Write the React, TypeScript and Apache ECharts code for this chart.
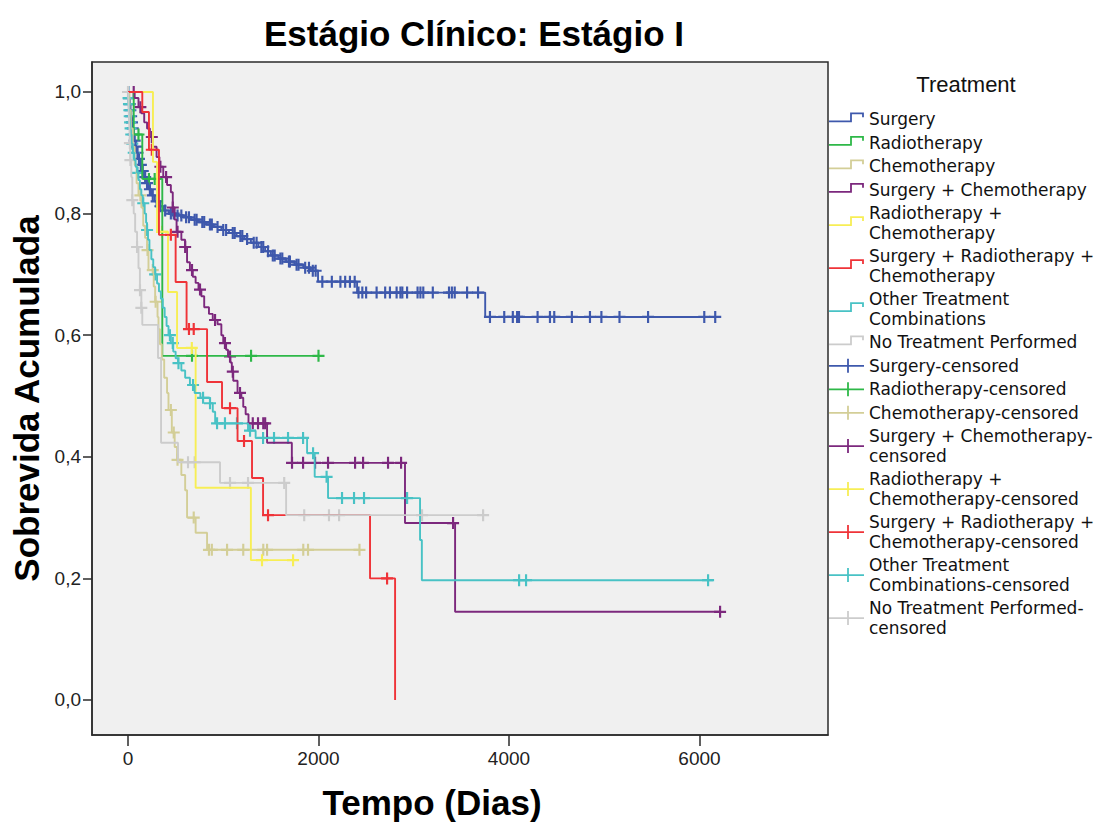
import React, { useEffect, useRef } from "react";
import * as echarts from "echarts";

// ---------- data ----------
const treatments = [
  "Surgery",
  "Radiotherapy",
  "Chemotherapy",
  "Surgery + Chemotherapy",
  "Radiotherapy + Chemotherapy",
  "Surgery + Radiotherapy + Chemotherapy",
  "Other Treatment Combinations",
  "No Treatment Performed",
];

const legendLabels = [
  "Surgery",
  "Radiotherapy",
  "Chemotherapy",
  "Surgery + Chemotherapy",
  "Radiotherapy +\nChemotherapy",
  "Surgery + Radiotherapy +\nChemotherapy",
  "Other Treatment\nCombinations",
  "No Treatment Performed",
  "Surgery-censored",
  "Radiotherapy-censored",
  "Chemotherapy-censored",
  "Surgery + Chemotherapy-\ncensored",
  "Radiotherapy +\nChemotherapy-censored",
  "Surgery + Radiotherapy +\nChemotherapy-censored",
  "Other Treatment\nCombinations-censored",
  "No Treatment Performed-\ncensored",
];

const colors = ["#3E58AC", "#2EB848", "#D3CE97", "#7C287D", "#F7EE55", "#EF3338", "#48C2C5", "#CCCCCC"];

const xTicks = [0, 2000, 4000, 6000];
const yTicks = [0, 0.2, 0.4, 0.6, 0.8, 1.0];

// Kaplan-Meier steps: [day, survival after that day]
const surgerySteps = [
  [0, 1.0], [8, 0.99], [15, 0.98], [22, 0.97], [30, 0.96], [38, 0.95], [46, 0.94], [55, 0.93],
  [65, 0.92], [78, 0.91], [92, 0.9], [108, 0.89], [125, 0.88], [145, 0.87], [165, 0.86], [190, 0.85],
  [215, 0.84], [245, 0.83], [280, 0.82], [320, 0.812], [370, 0.805], [430, 0.8], [500, 0.797],
  [580, 0.794], [660, 0.79], [740, 0.786], [820, 0.782], [900, 0.778], [980, 0.773], [1060, 0.768],
  [1140, 0.763], [1220, 0.758], [1290, 0.752], [1370, 0.745], [1440, 0.738], [1500, 0.731],
  [1580, 0.726], [1660, 0.721], [1750, 0.716], [1840, 0.711], [1920, 0.706], [1995, 0.688],
  [2405, 0.67], [3750, 0.63], [6216, 0.63],
];
const surgeryCensored = [
  3, 10, 18, 25, 33, 42, 50, 60, 70, 85, 100, 115, 135, 155, 180, 200, 230, 260, 300, 340, 390, 450,
  480, 520, 560, 610, 640, 700, 720, 780, 800, 860, 880, 940, 1000, 1030, 1100, 1120, 1180, 1200, 1250,
  1320, 1350, 1400, 1420, 1470, 1520, 1540, 1600, 1620, 1690, 1700, 1770, 1790, 1860, 1900, 1940, 1970,
  2040, 2140, 2230, 2280, 2330, 2380, 2420, 2460, 2500, 2610, 2700, 2750, 2820, 2860, 2880, 2930, 3040,
  3070, 3100, 3200, 3370, 3400, 3430, 3560, 3675, 3800, 3950, 4040, 4085, 4105, 4300, 4430, 4475,
  4660, 4850, 4970, 5160, 5460, 6050, 6165,
];

const radioSteps = [[0, 1.0], [60, 0.93], [150, 0.857], [360, 0.566], [2000, 0.566]];
const radioCensored = [110, 220, 280, 672, 1292, 2000];

const chemoSteps = [
  [0, 1.0], [15, 0.97], [30, 0.94], [50, 0.91], [70, 0.88], [90, 0.85], [110, 0.83], [140, 0.81],
  [160, 0.78], [180, 0.76], [200, 0.74], [215, 0.707], [270, 0.68], [285, 0.655], [310, 0.63],
  [320, 0.61], [335, 0.585], [355, 0.56], [380, 0.53], [410, 0.505], [425, 0.477], [460, 0.44],
  [490, 0.416], [515, 0.395], [560, 0.37], [600, 0.345], [620, 0.3], [710, 0.275], [830, 0.247],
  [2430, 0.247],
];
const chemoCensored = [130, 205, 260, 290, 450, 480, 520, 690, 850, 880, 1040, 1210, 1420, 1460, 1840, 1890, 2430];

const surgChemoSteps = [
  [0, 1.0], [70, 0.99], [110, 0.975], [140, 0.965], [170, 0.95], [200, 0.94], [230, 0.926], [260, 0.91],
  [300, 0.893], [330, 0.877], [370, 0.86], [410, 0.847], [450, 0.835], [470, 0.81], [490, 0.79],
  [510, 0.77], [560, 0.757], [600, 0.745], [620, 0.72], [650, 0.707], [680, 0.696], [710, 0.686],
  [740, 0.675], [770, 0.664], [800, 0.646], [850, 0.635], [890, 0.625], [940, 0.618], [980, 0.6],
  [1000, 0.587], [1030, 0.576], [1050, 0.565], [1075, 0.555], [1090, 0.54], [1105, 0.525],
  [1150, 0.505], [1190, 0.497], [1210, 0.482], [1235, 0.47], [1265, 0.455], [1460, 0.423],
  [1720, 0.39], [2908, 0.291], [3434, 0.145], [6216, 0.145],
];
const surgChemoCensored = [
  60, 130, 250, 340, 400, 470, 520, 600, 672, 756, 914, 1018, 1071, 1100, 1176, 1310, 1365, 1420, 1440,
  1722, 1838, 1964, 2100, 2384, 2468, 2730, 2867, 3413, 6216,
];

const radioChemoSteps = [[0, 1.0], [262, 0.885], [305, 0.77], [420, 0.671], [515, 0.579], [710, 0.349], [1290, 0.23], [1785, 0.23]];
const radioChemoCensored = [357, 670, 1407, 1733];

const surgRadioChemoSteps = [
  [0, 1.0], [150, 0.967], [220, 0.905], [325, 0.765], [500, 0.6875], [615, 0.61], [830, 0.523],
  [987, 0.48], [1150, 0.426], [1302, 0.365], [1418, 0.304], [2541, 0.2], [2804, 0.0],
];
const surgRadioChemoCensored = [250, 450, 640, 690, 1071, 1218, 1470, 2720];

const otherSteps = [
  [0, 1.0], [4, 0.99], [8, 0.98], [12, 0.97], [16, 0.96], [20, 0.95], [25, 0.94], [30, 0.93], [38, 0.915],
  [50, 0.9], [65, 0.888], [80, 0.877], [95, 0.867], [110, 0.855], [125, 0.84], [140, 0.83], [155, 0.817],
  [175, 0.8], [190, 0.785], [200, 0.773], [210, 0.757], [225, 0.74], [245, 0.725], [265, 0.712],
  [285, 0.7], [305, 0.685], [325, 0.672], [345, 0.66], [365, 0.645], [385, 0.63], [405, 0.615],
  [425, 0.6], [450, 0.587], [475, 0.573], [500, 0.562], [525, 0.554], [560, 0.542], [600, 0.53],
  [650, 0.518], [700, 0.505], [760, 0.497], [860, 0.488], [890, 0.474], [915, 0.455], [1260, 0.443],
  [1340, 0.431], [1880, 0.406], [1960, 0.367], [2100, 0.332], [3066, 0.263], [3085, 0.197], [6143, 0.197],
];
const otherCensored = [
  2, 6, 10, 14, 18, 22, 27, 34, 45, 60, 100, 160, 200, 285, 440, 470, 530, 683, 788, 861, 935, 1018,
  1144, 1281, 1418, 1533, 1680, 1838, 1943, 2085, 2247, 2373, 2478, 2930, 4106, 4179, 6090,
];

const noTreatSteps = [
  [0, 1.0], [5, 0.98], [10, 0.96], [15, 0.94], [20, 0.916], [25, 0.888], [35, 0.86], [45, 0.822],
  [60, 0.8], [75, 0.77], [95, 0.745], [110, 0.71], [125, 0.674], [140, 0.645], [150, 0.617],
  [315, 0.5625], [347, 0.423], [525, 0.391], [966, 0.357], [1660, 0.304], [3728, 0.304],
];
const noTreatCensored = [0, 20, 25, 45, 95, 126, 140, 630, 700, 1071, 1260, 1640, 1850, 2110, 2216, 3087, 3728];

const allSteps = [surgerySteps, radioSteps, chemoSteps, surgChemoSteps, radioChemoSteps, surgRadioChemoSteps, otherSteps, noTreatSteps];
const allCensored = [surgeryCensored, radioCensored, chemoCensored, surgChemoCensored, radioChemoCensored, surgRadioChemoCensored, otherCensored, noTreatCensored];

// ---------- helpers ----------
function survivalAt(steps: number[][], t: number): number {
  let s = steps[0][1];
  for (const [x, y] of steps) {
    if (x <= t) s = y;
    else break;
  }
  return s;
}

const PLUS = "path://M4.1,0H5.9V4.1H10V5.9H5.9V10H4.1V5.9H0V4.1H4.1Z";
const SANS = '"Liberation Sans", Arial, sans-serif';

export default function App() {
  const ref = useRef<HTMLDivElement>(null);

  useEffect(() => {
    if (!ref.current) return;
    const chart = echarts.init(ref.current, null, { renderer: "svg" });

    const lineSeries = treatments.map((name, i) => ({
      type: "line",
      name,
      step: "end",
      data: allSteps[i],
      showSymbol: false,
      symbol: "none",
      silent: true,
      lineStyle: { width: 1.9, color: colors[i] },
      itemStyle: { color: colors[i] },
    }));

    const censorSeries = treatments.map((name, i) => ({
      type: "scatter",
      name: name + "-censored",
      data: allCensored[i].map((t) => [t, survivalAt(allSteps[i], t)]),
      symbol: PLUS,
      symbolSize: 12,
      silent: true,
      itemStyle: { color: colors[i], opacity: 1 },
    }));

    // legend drawn as graphic
    const legendEls: any[] = [];
    let cursor = 119.3;
    const lineStep = 19.5;
    legendLabels.forEach((label, i) => {
      const n = label.split("\n").length;
      const first = cursor;
      const last = cursor + (n - 1) * lineStep;
      const cy = (first + last) / 2;
      const color = colors[i % 8];
      if (i < 8) {
        legendEls.push({
          type: "polyline",
          shape: { points: [[829, cy + 2], [851, cy + 2], [851, cy - 6], [863, cy - 6], [863, cy - 2]] },
          style: { stroke: color, lineWidth: 1.8, fill: null },
        });
      } else {
        legendEls.push({ type: "line", shape: { x1: 829, y1: cy, x2: 864, y2: cy }, style: { stroke: color, lineWidth: 1.8 } });
        legendEls.push({ type: "line", shape: { x1: 848, y1: cy - 7, x2: 848, y2: cy + 7 }, style: { stroke: color, lineWidth: 1.8 } });
      }
      legendEls.push({
        type: "text",
        x: 869,
        y: cy,
        style: { text: label, font: '17px "DejaVu Sans", sans-serif', fill: "#111", verticalAlign: "middle", lineHeight: lineStep },
      });
      cursor = last + 23.5;
    });

    const option: any = {
      animation: false,
      backgroundColor: "#ffffff",
      textStyle: { fontFamily: SANS },
      grid: {
        left: 92, right: 268, top: 62, bottom: 91,
        show: true, backgroundColor: "#F0F0F0", borderColor: "#2b2b2b", borderWidth: 1.5,
      },
      xAxis: {
        type: "value",
        min: -378,
        max: 7349,
        name: "Tempo (Dias)",
        nameLocation: "middle",
        nameGap: 50,
        nameTextStyle: { fontFamily: SANS, fontWeight: "bold", fontSize: 35, color: "#000", padding: [0, 56, 0, 0] },
        axisLine: { show: true, onZero: false, lineStyle: { color: "#2b2b2b", width: 1.5 } },
        axisTick: { show: true, customValues: xTicks, length: 11, lineStyle: { color: "#2b2b2b", width: 1.5 } },
        axisLabel: {
          customValues: xTicks,
          margin: 14,
          fontSize: 19,
          color: "#222",
          fontFamily: SANS,
          formatter: (v: number) => String(Math.round(v)),
        },
        splitLine: { show: false },
      },
      yAxis: {
        type: "value",
        min: -0.0576,
        max: 1.0493,
        name: "Sobrevida Acumulada",
        nameLocation: "middle",
        nameGap: 44,
        nameTextStyle: { fontFamily: SANS, fontWeight: "bold", fontSize: 35, color: "#000" },
        axisLine: { show: true, onZero: false, lineStyle: { color: "#2b2b2b", width: 1.5 } },
        axisTick: { show: true, customValues: yTicks, length: 9, lineStyle: { color: "#2b2b2b", width: 1.5 } },
        axisLabel: {
          customValues: yTicks,
          margin: 11,
          fontSize: 19,
          color: "#222",
          fontFamily: SANS,
          formatter: (v: number) => v.toFixed(1).replace(".", ","),
        },
        splitLine: { show: false },
      },
      series: [...lineSeries, ...censorSeries],
      graphic: [
        {
          type: "text",
          x: 474,
          y: 33,
          style: { text: "Estágio Clínico: Estágio I", font: 'bold 35px "Liberation Sans", Arial, sans-serif', fill: "#000", align: "center", verticalAlign: "middle" },
        },
        {
          type: "text",
          x: 966,
          y: 84,
          style: { text: "Treatment", font: '22px "Liberation Sans", Arial, sans-serif', fill: "#111", align: "center", verticalAlign: "middle" },
        },
        ...legendEls,
      ],
    };

    chart.setOption(option);
    return () => chart.dispose();
  }, []);

  return <div ref={ref} style={{ position: "absolute", left: 0, top: 0, width: 1096, height: 826 }} />;
}
